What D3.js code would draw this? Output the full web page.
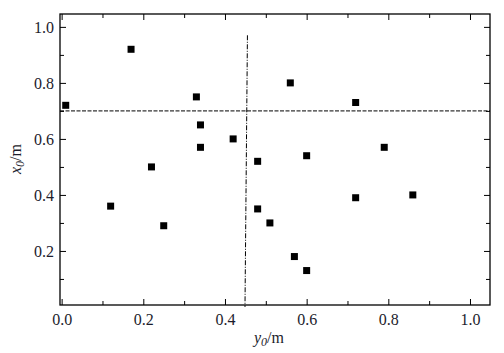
<!DOCTYPE html>
<html><head><meta charset="utf-8">
<script src="https://cdn.jsdelivr.net/npm/d3@7"></script>
<style>body{margin:0;background:#fff}svg{display:block}</style>
</head><body>
<svg id="c" width="504" height="353"></svg>
<script>
const yPos = [0.01,0.17,0.33,0.56,0.72,0.34,0.34,0.42,0.22,0.48,0.60,0.79,0.12,0.25,0.48,0.51,0.72,0.86,0.57,0.60];
const xPos = [0.72,0.92,0.75,0.80,0.73,0.65,0.57,0.60,0.50,0.52,0.54,0.57,0.36,0.29,0.35,0.30,0.39,0.40,0.18,0.13];
const majorTicks = [0,0.2,0.4,0.6,0.8,1.0];
const minorTicks = [0.1,0.3,0.5,0.7,0.9];
const hLine = 0.70;
const vLineTop = [0.455,0.97];
const vLineBottom = [0.449,0.0];

const svg = d3.select("#c");
const L=60,R=490,T=14,B=305;
const x = d3.scaleLinear().domain([-0.004,1.049]).range([L,R]);
const y = d3.scaleLinear().domain([0.007,1.046]).range([B,T]);
const font = "Liberation Serif, Times New Roman, serif";
const tc = "#1c1c2c";

// reference lines
svg.append("line").attr("x1",L).attr("x2",R).attr("y1",y(hLine)).attr("y2",y(hLine))
  .attr("stroke","#000").attr("stroke-width",1).attr("stroke-dasharray","4,1.5");
svg.append("line").attr("x1",x(vLineTop[0])).attr("y1",y(vLineTop[1]))
  .attr("x2",x(vLineBottom[0])).attr("y2",y(vLineBottom[1]))
  .attr("stroke","#000").attr("stroke-width",1).attr("stroke-dasharray","5,1.5,1,1.5");

// axes
function ax(gen, scale, ticks, size, tr, labels){
  const g = svg.append("g").attr("transform",tr)
    .call(gen(scale).tickValues(ticks).tickSize(size).tickPadding(8)
      .tickFormat(labels ? d3.format(".1f") : ""));
  g.attr("font-family",font);
  g.select(".domain").remove();
  g.selectAll("line").attr("stroke","#000").attr("stroke-width",1);
  g.selectAll("text").style("font-family",font).attr("font-size",16).attr("fill",tc);
  return g;
}
// bottom
const gb = ax(d3.axisTop, x, majorTicks, 6, `translate(0,${B})`, true);
gb.selectAll("text").attr("dy",null).attr("y",20);
ax(d3.axisTop, x, minorTicks, 4, `translate(0,${B})`, false);
// top
ax(d3.axisBottom, x, majorTicks, 6, `translate(0,${T})`, false);
ax(d3.axisBottom, x, minorTicks, 4, `translate(0,${T})`, false);
// left
const gl = ax(d3.axisRight, y, majorTicks.filter(d=>d>0), 6, `translate(${L},0)`, true);
gl.selectAll("text").attr("x",-6).attr("text-anchor","end");
ax(d3.axisRight, y, minorTicks, 4, `translate(${L},0)`, false);
// right
ax(d3.axisLeft, y, majorTicks.filter(d=>d>0), 6, `translate(${R},0)`, false);
ax(d3.axisLeft, y, minorTicks, 4, `translate(${R},0)`, false);

svg.append("rect").attr("x",L).attr("y",T).attr("width",R-L).attr("height",B-T)
  .attr("fill","none").attr("stroke","#000").attr("stroke-width",1.3);

// points
svg.append("g").selectAll("rect").data(yPos.map((v,i)=>[v,xPos[i]])).join("rect")
  .attr("x",d=>x(d[0])-3.5).attr("y",d=>y(d[1])-3.5).attr("width",7).attr("height",7)
  .attr("fill","#000");

// axis titles
const xt = svg.append("text").attr("x",269).attr("y",343).attr("text-anchor","middle")
  .style("font-family",font).attr("font-size",16).attr("fill",tc);
xt.append("tspan").attr("font-style","italic").text("y");
xt.append("tspan").attr("font-style","italic").attr("font-size",12).attr("dy",3).text("0");
xt.append("tspan").attr("dy",-3).text("/m");

const yt = svg.append("text").attr("transform","translate(21,159) rotate(-90)").attr("text-anchor","middle")
  .style("font-family",font).attr("font-size",16).attr("fill",tc);
yt.append("tspan").attr("font-style","italic").text("x");
yt.append("tspan").attr("font-style","italic").attr("font-size",12).attr("dy",3).text("0");
yt.append("tspan").attr("dy",-3).text("/m");
</script>
</body></html>
